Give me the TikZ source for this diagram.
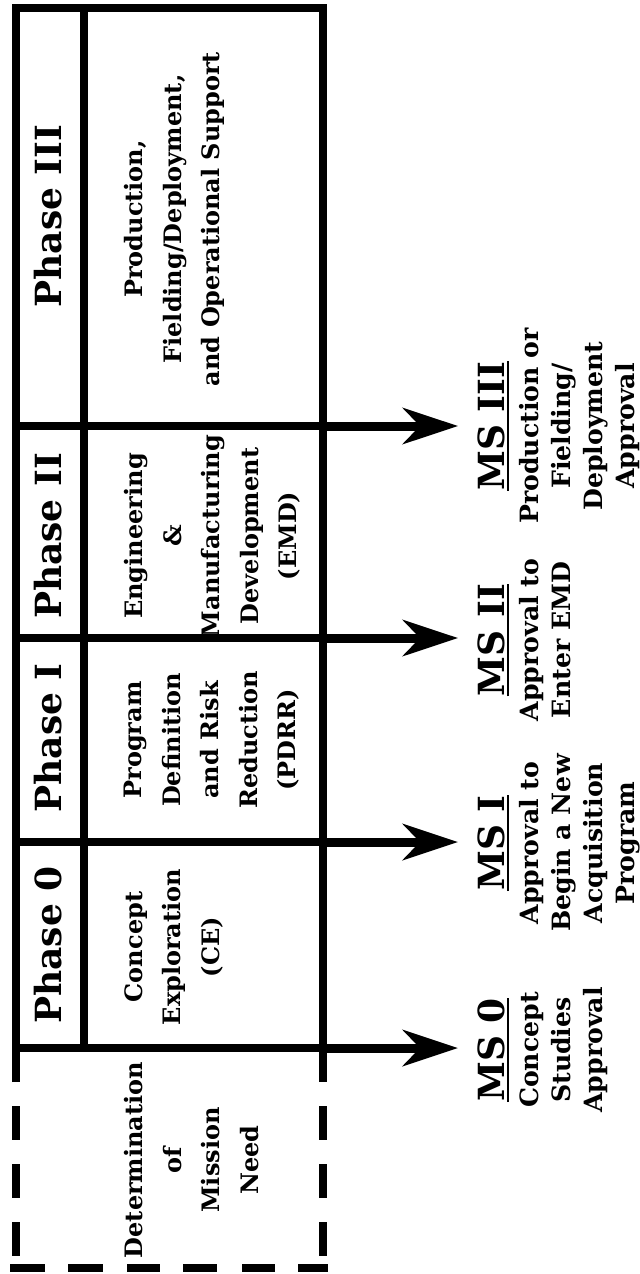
\documentclass[tikz,border=0pt]{standalone}
\usepackage{fontspec}
\setmainfont{DejaVu Serif}
\usetikzlibrary{arrows.meta}
\begin{document}
\begin{tikzpicture}[x=0.5pt,y=-0.5pt,
  frame/.style={line width=4pt},
  dashseg/.style={line width=4pt},
  mstone/.style={line width=4.5pt,-{Stealth[length=27.5pt,width=18pt,inset=8.5pt]}},
  phasehead/.style={rotate=90,inner sep=0pt,font=\fontsize{18}{22}\selectfont\bfseries},
  phasetext/.style={rotate=90,inner sep=0pt,anchor=north,align=center,font=\fontsize{12}{19.25}\selectfont\bfseries},
  mstitle/.style={rotate=90,inner sep=0pt,anchor=north,font=\fontsize{18}{22}\selectfont\bfseries},
  mstext/.style={rotate=90,inner sep=0pt,anchor=north,align=center,font=\fontsize{12.6}{16}\selectfont\bfseries},
  uline/.style={line width=1pt}
]
\useasboundingbox (0,0) rectangle (639,1274);
\fill[white] (0,0) rectangle (639,1274);

% solid outer frame of the phase table
\coordinate (tl) at (16,7.5);
\coordinate (tr) at (323,7.5);
\coordinate (bl) at (16,1082);
\coordinate (br) at (323,1082);
\draw[frame,line join=miter] (bl) -- (tl) -- (tr) -- (br);
% divider between the phase titles and their descriptions
\coordinate (ht) at (84,7.5);
\coordinate (hb) at (84,1048);
\draw[frame] (ht) -- (hb);

% phase boundaries, each ending in a milestone arrow
\foreach \y/\n in {426/3, 638/2, 842/1, 1048/0} {
  \coordinate (L\n) at (16,\y);
  \coordinate (R\n) at (323,\y);
  \coordinate (T\n) at (458,\y);
  \draw[frame] (L\n) -- (R\n);
  \draw[mstone] (R\n) -- (T\n);
}

% dashed frame around the mission-need block
\foreach \a/\b in {1106/1140, 1164/1198, 1222/1256} {
  \draw[dashseg] (16,\a) -- (16,\b);
  \draw[dashseg] (323,\a) -- (323,\b);
}
\foreach \a/\b in {10/45, 68/103, 127/160, 183/217, 242/275, 298/328} {
  \draw[dashseg] (\a,1268) -- (\b,1268);
}

% phase titles
\node[phasehead] (h3) at (48,216) {Phase III};
\node[phasehead] (h2) at (48,536) {Phase II};
\node[phasehead] (h1) at (48,738) {Phase I};
\node[phasehead] (h0) at (48,945) {Phase 0};

% phase descriptions
\node[phasetext] (d3) at (124,219) {Production,\\Fielding/Deployment,\\and Operational Support};
\node[phasetext] (d2) at (124,536) {Engineering\\\&\\Manufacturing\\Development\\(EMD)};
\node[phasetext] (d1) at (124,740) {Program\\Definition\\and Risk\\Reduction\\(PDRR)};
\node[phasetext] (d0) at (124,947) {Concept\\Exploration\\(CE)};
\node[phasetext] (dn) at (124,1160) {Determination\\of\\Mission\\Need};

% milestones
\node[mstitle] (m3) at (477,426) {MS III};
\node[mstext] (m3d) at (519,426) {Production or\\Fielding/\\Deployment\\Approval};
\node[mstitle] (m2) at (477,640) {MS II};
\node[mstext] (m2d) at (519,640) {Approval to\\Enter EMD};
\node[mstitle] (m1) at (477,843) {MS I};
\node[mstext] (m1d) at (519,843) {Approval to\\Begin a New\\Acquisition\\Program};
\node[mstitle] (m0) at (477,1050) {MS 0};
\node[mstext] (m0d) at (519,1050) {Concept\\Studies\\Approval};
\foreach \m in {m3,m2,m1,m0} {
  \draw[uline] ([xshift=1.5pt]\m.south west) -- ([xshift=1.5pt]\m.south east);
}
\end{tikzpicture}
\end{document}
